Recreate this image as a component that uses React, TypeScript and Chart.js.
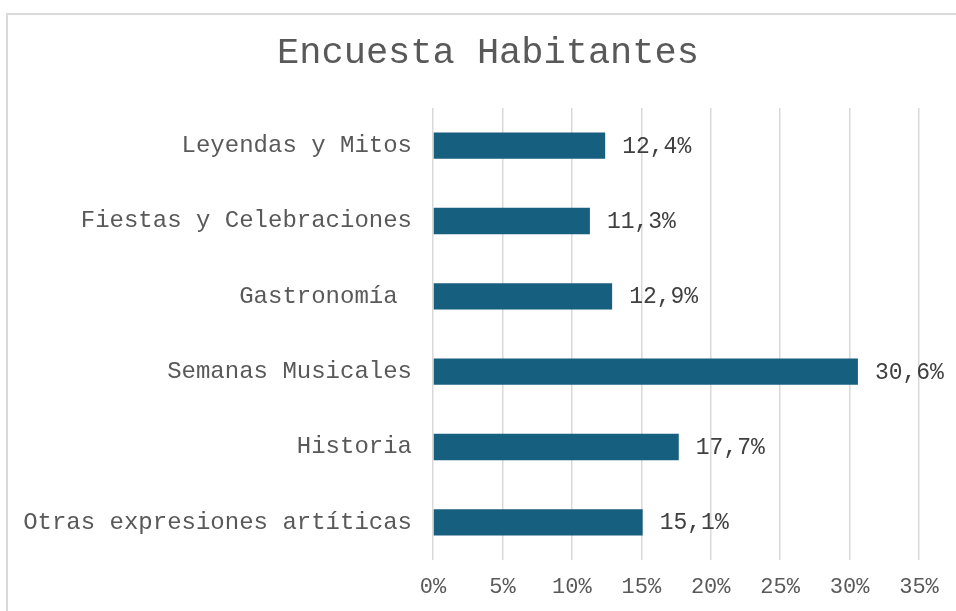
import React, { useEffect, useRef } from "react";
import { Chart, registerables } from "chart.js";

Chart.register(...registerables);

const TITLE = "Encuesta Habitantes";
const categories = [
  "Leyendas y Mitos",
  "Fiestas y Celebraciones",
  "Gastronomía ",
  "Semanas Musicales",
  "Historia",
  "Otras expresiones artíticas",
];
const values = [12.4, 11.3, 12.9, 30.6, 17.7, 15.1];
const xTicks = [0, 5, 10, 15, 20, 25, 30, 35];

const FONT = "'Courier New', 'Liberation Mono', monospace";
const BAR = "#175F7F";
const TEXT = "#595959";

const fmt = (v: number) => v.toFixed(1).replace(".", ",") + "%";

const dataLabels = {
  id: "dataLabels",
  afterDatasetsDraw(chart: any) {
    const ctx = chart.ctx;
    const meta = chart.getDatasetMeta(0);
    ctx.save();
    ctx.font = `23px ${FONT}`;
    ctx.fillStyle = "#404040";
    ctx.textAlign = "left";
    ctx.textBaseline = "middle";
    meta.data.forEach((bar: any, i: number) => {
      ctx.fillText(fmt(values[i]), bar.x + 17, bar.y + 1);
    });
    ctx.restore();
  },
};

const titlePlugin = {
  id: "customTitle",
  afterDraw(chart: any) {
    const ctx = chart.ctx;
    ctx.save();
    ctx.font = `37px ${FONT}`;
    ctx.fillStyle = TEXT;
    ctx.textAlign = "center";
    ctx.textBaseline = "middle";
    ctx.fillText(TITLE, (chart.chartArea.right + 57) / 2, 53);
    ctx.restore();
  },
};

export default function App() {
  const ref = useRef<HTMLCanvasElement | null>(null);
  useEffect(() => {
    if (!ref.current) return;
    const chart = new Chart(ref.current, {
      type: "bar",
      data: {
        labels: categories,
        datasets: [
          {
            data: values,
            backgroundColor: BAR,
            borderWidth: 0,
            barPercentage: 0.35,
            categoryPercentage: 1,
          },
        ],
      },
      options: {
        indexAxis: "y",
        animation: false,
        responsive: false,
        maintainAspectRatio: false,
        layout: { padding: { left: 0, right: 37, top: 108, bottom: 11 } },
        plugins: {
          legend: { display: false },
          tooltip: { enabled: false },
          title: { display: false },
        },
        scales: {
          x: {
            min: 0,
            max: 35,
            afterBuildTicks: (s: any) => {
              s.ticks = xTicks.map((v) => ({ value: v }));
            },
            afterFit: (s: any) => {
              s.height = 40;
            },
            ticks: {
              color: TEXT,
              font: { family: FONT, size: 22 },
              padding: 14,
              callback: (v: any) => `${v}%`,
            },
            grid: { color: "#D9D9D9", lineWidth: 1.5, drawTicks: false },
            border: { display: false },
          },
          y: {
            afterFit: (s: any) => {
              s.width = 433;
            },
            ticks: {
              color: TEXT,
              font: { family: FONT, size: 24 },
              padding: 21,
            },
            grid: { display: false, drawTicks: false },
            border: { display: false },
          },
        },
      },
      plugins: [dataLabels, titlePlugin],
    });
    return () => chart.destroy();
  }, []);

  return (
    <div
      style={{
        position: "fixed",
        left: 0,
        top: 0,
        width: 956,
        height: 611,
        overflow: "hidden",
        background: "#fff",
      }}
    >
      <div
        style={{
          position: "absolute",
          left: 6,
          top: 13,
          width: 1000,
          height: 700,
          border: "2px solid #D9D9D9",
          boxSizing: "border-box",
        }}
      />
      <canvas
        ref={ref}
        width={956}
        height={611}
        style={{ position: "absolute", left: 0, top: 0, width: 956, height: 611 }}
      />
    </div>
  );
}
